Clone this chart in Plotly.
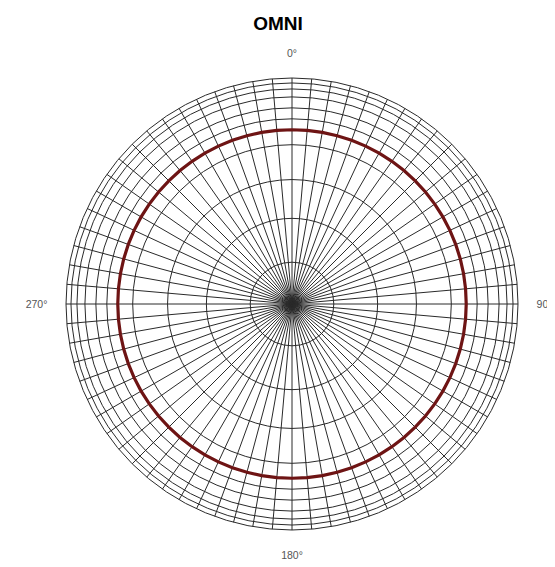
import plotly.graph_objects as go

# ---- data ----
title_text = "OMNI"
pattern_theta = list(range(0, 365, 5))
pattern_r = [175, 175, 175, 175, 175, 175, 175, 175, 175, 175, 175, 175,
             175, 175, 175, 175, 175, 175, 175, 175, 175, 175, 175, 175,
             175, 175, 175, 175, 175, 175, 175, 175, 175, 175, 175, 175,
             175, 175, 175, 175, 175, 175, 175, 175, 175, 175, 175, 175,
             175, 175, 175, 175, 175, 175, 175, 175, 175, 175, 175, 175,
             175, 175, 175, 175, 175, 175, 175, 175, 175, 175, 175, 175,
             175]
ring_values = [42, 86, 125, 160, 186, 197, 208, 216, 222]
radial_max = 227
spoke_angles = list(range(0, 360, 5))
cardinal_labels = {0: "0°", 90: "90°", 180: "180°", 270: "270°"}

tick_text = [cardinal_labels.get(a, "") for a in spoke_angles]

fig = go.Figure()
fig.add_trace(go.Scatterpolar(
    r=pattern_r, theta=pattern_theta, mode="lines",
    line=dict(color="#6e1414", width=3.2),
    hoverinfo="skip", showlegend=False,
))

W, H = 555, 567
cx, cy, R = 284, 296, 226
fig.update_layout(
    width=W, height=H,
    margin=dict(l=0, r=0, t=0, b=0),
    paper_bgcolor="white", plot_bgcolor="white",
    title=dict(text="<b>" + title_text + "</b>", x=270 / W, xanchor="center",
               y=1 - 15 / H, yanchor="middle",
               font=dict(family="Liberation Sans, Arial", size=19, color="black")),
    polar=dict(
        domain=dict(x=[(cx - R) / W, (cx + R) / W],
                    y=[(H - cy - R) / H, (H - cy + R) / H]),
        bgcolor="white",
        radialaxis=dict(range=[0, radial_max], tickvals=ring_values,
                        showticklabels=False, ticks="", showline=False,
                        gridcolor="#2a2a2a", gridwidth=1),
        angularaxis=dict(rotation=90, direction="clockwise",
                         tickvals=spoke_angles, ticktext=tick_text,
                         ticks="outside", ticklen=16, tickcolor="rgba(0,0,0,0)",
                         tickfont=dict(family="Liberation Sans, Arial", size=10.5, color="#555"),
                         showline=True, linecolor="#2a2a2a", linewidth=1,
                         gridcolor="#2a2a2a", gridwidth=1),
    ),
)

fig.write_html("out.html")
